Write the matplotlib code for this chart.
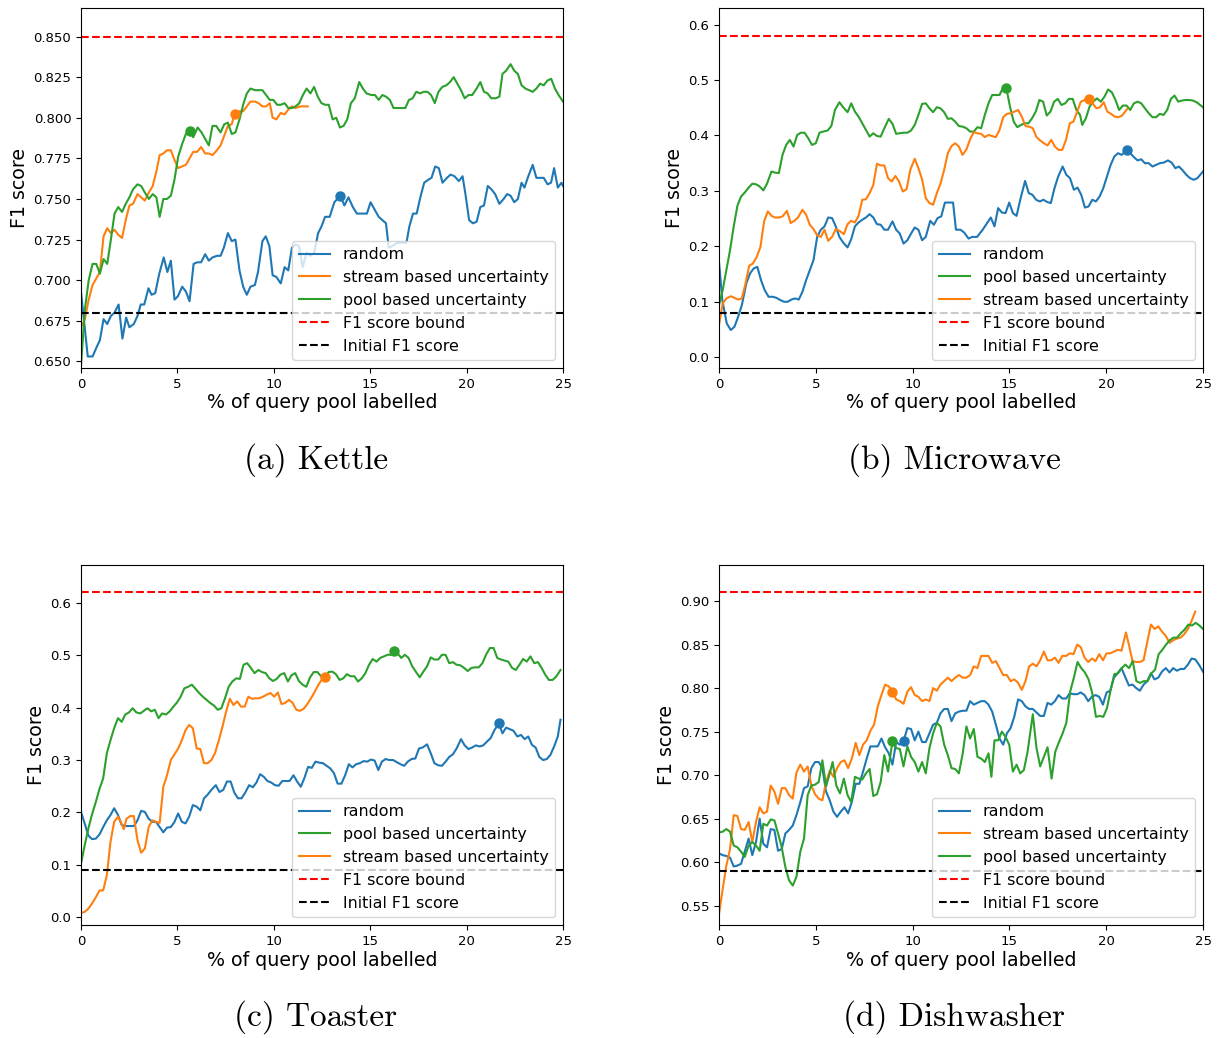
import matplotlib
matplotlib.use("Agg")
import matplotlib.pyplot as plt
import numpy as np

# ---------------- data ----------------
# (a) Kettle
k_random = [(0,0.693),(0.35,0.653),(0.6,0.653),(0.82,0.659),(0.98,0.663),(1.17,0.676),(1.36,0.673),(1.55,0.678),(1.74,0.680),(1.95,0.685),(2.15,0.664),(2.34,0.677),(2.51,0.671),(2.74,0.673),(2.93,0.678),(3.1,0.685),(3.28,0.685),(3.5,0.695),(3.66,0.691),(3.85,0.692),(4.06,0.704),(4.29,0.714),(4.48,0.705),(4.66,0.712),(4.85,0.688),(5.02,0.690),(5.25,0.696),(5.44,0.693),(5.63,0.687),(5.84,0.710),(6.03,0.711),(6.23,0.711),(6.44,0.716),(6.63,0.712),(6.82,0.714),(7.05,0.715),(7.24,0.715),(7.41,0.720),(7.62,0.729),(7.82,0.724),(8.01,0.725),(8.22,0.706),(8.41,0.696),(8.6,0.691),(8.79,0.696),(9.02,0.697),(9.18,0.705),(9.41,0.724),(9.58,0.727),(9.77,0.721),(9.94,0.703),(10.13,0.702),(10.36,0.698),(10.56,0.708),(10.75,0.706),(10.94,0.720),(11.13,0.722),(11.3,0.721),(11.5,0.708),(11.7,0.717),(11.9,0.715),(12.1,0.717),(12.3,0.729),(12.47,0.733),(12.66,0.739),(12.9,0.739),(13.14,0.748),(13.45,0.752),(13.66,0.746),(13.87,0.751),(14.1,0.745),(14.31,0.741),(14.48,0.741),(14.83,0.741),(15.02,0.748),(15.25,0.743),(15.44,0.739),(15.63,0.737),(15.82,0.735),(15.96,0.720),(16.15,0.721),(16.4,0.723),(16.7,0.723),(16.88,0.723),(17.03,0.733),(17.22,0.741),(17.41,0.741),(17.6,0.751),(17.8,0.760),(18.03,0.762),(18.18,0.763),(18.37,0.770),(18.56,0.769),(18.75,0.760),(18.98,0.763),(19.17,0.765),(19.37,0.764),(19.6,0.761),(19.79,0.764),(19.94,0.753),(20.13,0.737),(20.33,0.735),(20.52,0.736),(20.71,0.745),(20.9,0.746),(21.1,0.758),(21.28,0.756),(21.48,0.753),(21.7,0.747),(21.92,0.750),(22.1,0.753),(22.28,0.752),(22.47,0.748),(22.66,0.750),(22.85,0.760),(23.0,0.757),(23.2,0.764),(23.43,0.771),(23.62,0.763),(23.81,0.763),(24.0,0.763),(24.2,0.759),(24.38,0.760),(24.54,0.769),(24.73,0.757),(24.92,0.760),(25,0.758)]
k_stream = [(0,0.671),(0.2,0.676),(0.4,0.688),(0.6,0.697),(0.79,0.701),(0.98,0.705),(1.17,0.727),(1.36,0.732),(1.55,0.729),(1.74,0.731),(1.93,0.728),(2.13,0.726),(2.32,0.737),(2.51,0.746),(2.7,0.747),(2.93,0.753),(3.12,0.751),(3.31,0.749),(3.52,0.754),(3.72,0.758),(3.91,0.767),(4.08,0.777),(4.27,0.778),(4.46,0.780),(4.66,0.780),(4.85,0.774),(5.04,0.769),(5.23,0.770),(5.44,0.771),(5.63,0.775),(5.82,0.779),(6.02,0.779),(6.23,0.782),(6.44,0.778),(6.63,0.778),(6.82,0.777),(7.05,0.780),(7.24,0.783),(7.43,0.789),(7.62,0.795),(7.82,0.796),(7.97,0.803),(8.22,0.804),(8.41,0.804),(8.6,0.807),(8.79,0.810),(9.02,0.810),(9.21,0.809),(9.41,0.807),(9.6,0.807),(9.79,0.809),(9.94,0.800),(10.13,0.799),(10.36,0.803),(10.56,0.802),(10.75,0.805),(10.94,0.807),(11.13,0.806),(11.36,0.807),(11.76,0.807)]
k_pool = [(0,0.647),(0.2,0.682),(0.4,0.700),(0.6,0.710),(0.79,0.710),(0.98,0.704),(1.17,0.713),(1.36,0.710),(1.55,0.725),(1.74,0.741),(1.93,0.745),(2.13,0.742),(2.32,0.747),(2.51,0.751),(2.7,0.756),(2.93,0.759),(3.12,0.758),(3.31,0.754),(3.52,0.750),(3.72,0.753),(3.91,0.751),(4.08,0.739),(4.27,0.750),(4.46,0.750),(4.66,0.752),(4.85,0.762),(5.04,0.776),(5.25,0.784),(5.44,0.790),(5.63,0.792),(5.82,0.788),(6.05,0.794),(6.25,0.791),(6.44,0.787),(6.63,0.783),(6.82,0.795),(7.01,0.795),(7.24,0.791),(7.43,0.796),(7.62,0.797),(7.82,0.790),(8.01,0.791),(8.22,0.799),(8.41,0.808),(8.6,0.815),(8.79,0.818),(9.02,0.817),(9.21,0.817),(9.41,0.817),(9.6,0.814),(9.79,0.811),(9.98,0.811),(10.17,0.808),(10.36,0.808),(10.56,0.809),(10.75,0.806),(10.94,0.806),(11.13,0.807),(11.32,0.809),(11.51,0.814),(11.7,0.818),(11.9,0.815),(12.09,0.819),(12.28,0.813),(12.47,0.809),(12.66,0.808),(12.85,0.808),(13.05,0.799),(13.24,0.800),(13.43,0.794),(13.62,0.795),(13.81,0.799),(14.0,0.809),(14.2,0.812),(14.43,0.822),(14.62,0.818),(14.81,0.815),(15.06,0.814),(15.25,0.814),(15.44,0.811),(15.63,0.814),(15.82,0.813),(16.02,0.811),(16.21,0.806),(16.49,0.806),(16.82,0.806),(17.01,0.811),(17.2,0.812),(17.39,0.816),(17.59,0.815),(17.78,0.816),(17.97,0.816),(18.16,0.814),(18.35,0.809),(18.54,0.816),(18.74,0.819),(18.95,0.820),(19.14,0.822),(19.33,0.825),(19.52,0.821),(19.71,0.817),(19.9,0.812),(20.1,0.814),(20.29,0.814),(20.52,0.818),(20.71,0.822),(20.9,0.816),(21.09,0.815),(21.28,0.812),(21.51,0.812),(21.7,0.813),(21.86,0.827),(22.05,0.829),(22.28,0.833),(22.47,0.829),(22.66,0.827),(22.85,0.820),(23.05,0.818),(23.24,0.817),(23.43,0.816),(23.62,0.818),(23.81,0.821),(24.0,0.820),(24.2,0.823),(24.39,0.824),(24.58,0.818),(24.77,0.814),(25,0.810)]
k_best = {"random": (13.45, 0.752), "stream": (7.97, 0.8025), "pool": (5.63, 0.792)}
k_bound, k_init = 0.85, 0.68
k_yticks = [0.650, 0.675, 0.700, 0.725, 0.750, 0.775, 0.800, 0.825, 0.850]

# (b) Microwave
m_random = [(0,0.172),(0.17,0.103),(0.4,0.061),(0.61,0.049),(0.8,0.055),(0.99,0.073),(1.18,0.094),(1.41,0.133),(1.6,0.151),(1.79,0.160),(1.98,0.163),(2.17,0.139),(2.36,0.121),(2.56,0.109),(2.78,0.109),(2.97,0.107),(3.17,0.103),(3.36,0.100),(3.55,0.100),(3.74,0.104),(3.93,0.106),(4.12,0.104),(4.31,0.118),(4.5,0.139),(4.69,0.157),(4.88,0.175),(5.07,0.217),(5.26,0.230),(5.45,0.236),(5.64,0.252),(5.84,0.251),(6.03,0.236),(6.22,0.217),(6.41,0.207),(6.64,0.198),(6.83,0.213),(7.02,0.236),(7.21,0.243),(7.4,0.248),(7.59,0.252),(7.78,0.258),(7.97,0.252),(8.16,0.240),(8.35,0.239),(8.54,0.230),(8.73,0.230),(8.96,0.245),(9.15,0.230),(9.34,0.223),(9.53,0.205),(9.73,0.211),(9.92,0.223),(10.11,0.234),(10.3,0.230),(10.49,0.211),(10.68,0.217),(10.91,0.246),(11.1,0.239),(11.29,0.251),(11.48,0.254),(11.67,0.279),(11.86,0.279),(12.09,0.279),(12.24,0.230),(12.47,0.230),(12.66,0.225),(12.89,0.214),(13.08,0.217),(13.33,0.217),(13.62,0.230),(13.81,0.240),(14.04,0.252),(14.23,0.236),(14.42,0.269),(14.61,0.261),(14.8,0.260),(14.99,0.279),(15.18,0.260),(15.37,0.255),(15.56,0.284),(15.81,0.318),(16.0,0.296),(16.19,0.293),(16.38,0.284),(16.57,0.281),(16.76,0.284),(16.95,0.280),(17.14,0.278),(17.33,0.305),(17.52,0.326),(17.75,0.344),(17.94,0.329),(18.13,0.323),(18.33,0.302),(18.52,0.306),(18.71,0.293),(18.9,0.270),(19.09,0.272),(19.28,0.284),(19.47,0.281),(19.66,0.290),(19.85,0.305),(20.04,0.326),(20.23,0.347),(20.42,0.362),(20.61,0.368),(20.8,0.365),(21.05,0.374),(21.24,0.368),(21.43,0.361),(21.62,0.355),(21.81,0.357),(22.0,0.350),(22.2,0.350),(22.39,0.344),(22.58,0.347),(22.77,0.350),(22.96,0.351),(23.19,0.355),(23.38,0.351),(23.57,0.341),(23.76,0.344),(23.95,0.337),(24.14,0.329),(24.33,0.323),(24.52,0.320),(24.71,0.323),(25,0.335)]
m_pool = [(0,0.094),(0.19,0.121),(0.38,0.157),(0.57,0.193),(0.76,0.236),(0.95,0.273),(1.14,0.290),(1.33,0.297),(1.53,0.306),(1.72,0.313),(1.91,0.312),(2.1,0.308),(2.29,0.301),(2.48,0.313),(2.71,0.335),(2.9,0.333),(3.09,0.332),(3.28,0.365),(3.47,0.383),(3.66,0.392),(3.85,0.380),(4.04,0.401),(4.23,0.405),(4.42,0.405),(4.61,0.395),(4.8,0.383),(5.0,0.386),(5.19,0.405),(5.38,0.407),(5.61,0.409),(5.8,0.417),(5.99,0.446),(6.22,0.460),(6.41,0.451),(6.64,0.442),(6.83,0.458),(7.02,0.443),(7.21,0.434),(7.4,0.422),(7.59,0.410),(7.78,0.398),(7.97,0.404),(8.16,0.399),(8.35,0.398),(8.54,0.413),(8.77,0.430),(8.96,0.421),(9.15,0.403),(9.34,0.404),(9.53,0.405),(9.73,0.405),(9.92,0.409),(10.11,0.419),(10.3,0.437),(10.49,0.457),(10.68,0.458),(10.87,0.449),(11.06,0.442),(11.25,0.451),(11.44,0.449),(11.63,0.442),(11.82,0.430),(12.01,0.431),(12.2,0.425),(12.39,0.417),(12.58,0.416),(12.78,0.413),(12.97,0.407),(13.16,0.407),(13.35,0.415),(13.54,0.413),(13.73,0.437),(13.92,0.458),(14.11,0.473),(14.3,0.473),(14.49,0.473),(14.68,0.487),(14.84,0.486),(15.03,0.452),(15.22,0.425),(15.41,0.415),(15.6,0.419),(15.79,0.422),(15.98,0.422),(16.17,0.431),(16.36,0.443),(16.55,0.464),(16.74,0.461),(16.93,0.436),(17.12,0.443),(17.31,0.461),(17.5,0.466),(17.69,0.455),(17.88,0.458),(18.07,0.466),(18.27,0.466),(18.46,0.446),(18.65,0.437),(18.76,0.419),(18.95,0.431),(19.14,0.452),(19.33,0.461),(19.52,0.467),(19.72,0.461),(19.91,0.470),(20.1,0.483),(20.29,0.478),(20.48,0.464),(20.67,0.446),(20.86,0.454),(21.05,0.454),(21.24,0.446),(21.43,0.458),(21.62,0.461),(21.81,0.458),(22.0,0.449),(22.2,0.440),(22.39,0.433),(22.58,0.433),(22.77,0.439),(22.96,0.437),(23.15,0.446),(23.34,0.466),(23.53,0.472),(23.72,0.461),(23.91,0.463),(24.1,0.464),(24.29,0.464),(24.48,0.463),(24.67,0.460),(25,0.451)]
m_stream = [(0,0.058),(0.19,0.097),(0.38,0.106),(0.61,0.110),(0.8,0.107),(0.99,0.104),(1.18,0.106),(1.37,0.133),(1.56,0.165),(1.75,0.169),(1.95,0.181),(2.14,0.199),(2.33,0.245),(2.52,0.263),(2.71,0.255),(2.9,0.252),(3.09,0.252),(3.28,0.254),(3.51,0.264),(3.7,0.242),(3.89,0.246),(4.08,0.252),(4.31,0.266),(4.5,0.257),(4.69,0.239),(4.88,0.231),(5.07,0.220),(5.26,0.217),(5.45,0.230),(5.64,0.210),(5.84,0.217),(6.03,0.231),(6.22,0.228),(6.45,0.222),(6.64,0.240),(6.83,0.246),(7.02,0.243),(7.21,0.255),(7.4,0.284),(7.59,0.285),(7.78,0.296),(7.97,0.311),(8.16,0.349),(8.35,0.346),(8.54,0.346),(8.73,0.323),(8.92,0.317),(9.11,0.327),(9.3,0.317),(9.49,0.299),(9.69,0.303),(9.88,0.338),(10.11,0.358),(10.3,0.341),(10.49,0.321),(10.68,0.287),(10.87,0.278),(11.06,0.275),(11.25,0.296),(11.44,0.313),(11.63,0.338),(11.82,0.368),(12.01,0.381),(12.2,0.386),(12.39,0.380),(12.58,0.365),(12.78,0.375),(12.97,0.393),(13.16,0.406),(13.35,0.404),(13.54,0.403),(13.73,0.397),(13.92,0.401),(14.11,0.399),(14.3,0.397),(14.49,0.410),(14.68,0.433),(14.87,0.439),(15.06,0.440),(15.26,0.443),(15.45,0.446),(15.64,0.434),(15.83,0.417),(16.02,0.416),(16.21,0.413),(16.4,0.397),(16.59,0.391),(16.78,0.386),(16.97,0.382),(17.16,0.392),(17.35,0.380),(17.54,0.374),(17.73,0.374),(17.92,0.392),(18.12,0.422),(18.31,0.425),(18.5,0.443),(18.69,0.461),(18.88,0.464),(19.11,0.466),(19.3,0.458),(19.49,0.449),(19.68,0.451),(19.87,0.460),(20.06,0.443),(20.25,0.439),(20.44,0.434),(20.63,0.433),(20.82,0.436),(21.09,0.448)]
m_best = {"random": (21.05, 0.374), "pool": (14.84, 0.486), "stream": (19.11, 0.466)}
m_bound, m_init = 0.58, 0.08
m_yticks = [0.0, 0.1, 0.2, 0.3, 0.4, 0.5, 0.6]

# (c) Toaster
t_random = [(0,0.201),(0.19,0.179),(0.38,0.156),(0.57,0.149),(0.77,0.150),(0.96,0.158),(1.15,0.172),(1.34,0.185),(1.53,0.195),(1.72,0.208),(1.92,0.195),(2.11,0.176),(2.3,0.174),(2.51,0.174),(2.74,0.174),(2.93,0.185),(3.12,0.203),(3.31,0.201),(3.51,0.188),(3.7,0.182),(3.89,0.182),(4.08,0.172),(4.27,0.162),(4.46,0.171),(4.66,0.172),(4.85,0.182),(5.04,0.198),(5.23,0.182),(5.42,0.179),(5.61,0.192),(5.8,0.214),(6.0,0.211),(6.19,0.204),(6.38,0.227),(6.57,0.234),(6.76,0.243),(6.99,0.252),(7.18,0.239),(7.38,0.243),(7.57,0.259),(7.76,0.259),(7.95,0.238),(8.14,0.227),(8.33,0.227),(8.52,0.238),(8.72,0.252),(8.91,0.248),(9.1,0.257),(9.29,0.273),(9.48,0.268),(9.67,0.260),(9.87,0.257),(10.06,0.252),(10.25,0.251),(10.44,0.260),(10.63,0.260),(10.82,0.260),(11.02,0.271),(11.21,0.259),(11.4,0.249),(11.59,0.266),(11.78,0.287),(11.97,0.285),(12.16,0.297),(12.36,0.295),(12.55,0.294),(12.74,0.289),(12.93,0.284),(13.12,0.275),(13.31,0.255),(13.51,0.255),(13.7,0.271),(13.89,0.292),(14.08,0.286),(14.27,0.292),(14.46,0.294),(14.66,0.298),(14.85,0.297),(15.04,0.301),(15.23,0.299),(15.42,0.281),(15.61,0.297),(15.8,0.302),(15.99,0.300),(16.19,0.300),(16.38,0.296),(16.57,0.292),(16.76,0.289),(16.95,0.297),(17.15,0.302),(17.34,0.303),(17.53,0.322),(17.72,0.324),(17.95,0.330),(18.14,0.313),(18.33,0.294),(18.53,0.290),(18.72,0.289),(18.91,0.297),(19.1,0.306),(19.29,0.311),(19.48,0.322),(19.71,0.340),(19.9,0.328),(20.1,0.321),(20.29,0.324),(20.48,0.328),(20.67,0.326),(20.86,0.328),(21.05,0.335),(21.25,0.342),(21.44,0.357),(21.67,0.370),(21.86,0.351),(22.05,0.362),(22.24,0.359),(22.43,0.356),(22.63,0.345),(22.82,0.348),(23.01,0.340),(23.2,0.345),(23.39,0.329),(23.58,0.324),(23.77,0.306),(23.97,0.300),(24.16,0.302),(24.35,0.310),(24.54,0.326),(24.73,0.345),(24.87,0.377)]
t_pool = [(0,0.102),(0.19,0.137),(0.38,0.169),(0.57,0.196),(0.77,0.220),(0.96,0.245),(1.15,0.265),(1.34,0.313),(1.53,0.338),(1.72,0.361),(1.92,0.380),(2.11,0.373),(2.3,0.387),(2.49,0.391),(2.68,0.399),(2.87,0.391),(3.07,0.389),(3.26,0.394),(3.45,0.399),(3.64,0.393),(3.83,0.396),(4.02,0.380),(4.21,0.389),(4.41,0.387),(4.6,0.393),(4.79,0.402),(4.98,0.410),(5.17,0.421),(5.36,0.437),(5.56,0.440),(5.75,0.444),(5.94,0.436),(6.13,0.428),(6.32,0.421),(6.51,0.415),(6.7,0.409),(6.9,0.404),(7.09,0.396),(7.28,0.399),(7.47,0.418),(7.66,0.440),(7.85,0.450),(8.05,0.456),(8.24,0.455),(8.43,0.482),(8.62,0.485),(8.81,0.476),(9.0,0.466),(9.2,0.472),(9.39,0.468),(9.58,0.466),(9.77,0.456),(9.96,0.451),(10.15,0.455),(10.34,0.463),(10.54,0.466),(10.73,0.450),(10.92,0.462),(11.11,0.466),(11.3,0.451),(11.49,0.444),(11.69,0.440),(11.88,0.458),(12.07,0.468),(12.26,0.468),(12.45,0.460),(12.64,0.456),(12.84,0.468),(13.03,0.469),(13.22,0.464),(13.41,0.453),(13.6,0.456),(13.79,0.464),(13.98,0.460),(14.18,0.460),(14.37,0.450),(14.56,0.456),(14.75,0.466),(14.94,0.482),(15.13,0.493),(15.33,0.488),(15.52,0.495),(15.71,0.498),(15.9,0.501),(16.1,0.501),(16.23,0.507),(16.42,0.504),(16.61,0.495),(16.8,0.501),(16.99,0.495),(17.18,0.479),(17.38,0.468),(17.57,0.458),(17.76,0.469),(17.95,0.479),(18.14,0.496),(18.33,0.492),(18.53,0.492),(18.72,0.501),(18.91,0.501),(19.1,0.485),(19.29,0.487),(19.48,0.482),(19.67,0.481),(19.87,0.476),(20.06,0.470),(20.25,0.476),(20.44,0.477),(20.63,0.477),(20.82,0.485),(21.02,0.502),(21.21,0.514),(21.4,0.514),(21.59,0.495),(21.78,0.492),(21.97,0.490),(22.16,0.488),(22.36,0.476),(22.55,0.472),(22.74,0.482),(22.93,0.493),(23.12,0.488),(23.31,0.498),(23.51,0.485),(23.7,0.487),(23.89,0.476),(24.08,0.463),(24.27,0.453),(24.46,0.453),(24.66,0.460),(24.87,0.472)]
t_stream = [(0,0.008),(0.19,0.010),(0.38,0.016),(0.57,0.026),(0.77,0.038),(0.96,0.051),(1.15,0.051),(1.34,0.080),(1.53,0.144),(1.72,0.182),(1.92,0.192),(2.07,0.181),(2.22,0.168),(2.36,0.188),(2.55,0.193),(2.74,0.193),(2.93,0.147),(3.12,0.123),(3.31,0.131),(3.51,0.172),(3.7,0.185),(3.89,0.182),(4.08,0.180),(4.27,0.249),(4.46,0.271),(4.66,0.300),(4.85,0.311),(5.04,0.322),(5.23,0.338),(5.42,0.357),(5.61,0.367),(5.8,0.361),(6.0,0.322),(6.19,0.321),(6.38,0.294),(6.57,0.294),(6.76,0.300),(6.95,0.313),(7.15,0.338),(7.34,0.364),(7.53,0.393),(7.72,0.417),(7.91,0.405),(8.1,0.412),(8.3,0.402),(8.49,0.402),(8.68,0.421),(8.87,0.417),(9.06,0.418),(9.25,0.418),(9.44,0.421),(9.64,0.425),(9.83,0.428),(10.02,0.421),(10.21,0.429),(10.4,0.407),(10.59,0.409),(10.79,0.415),(10.98,0.409),(11.17,0.396),(11.36,0.394),(11.55,0.398),(11.74,0.407),(11.93,0.418),(12.13,0.431),(12.32,0.444),(12.51,0.455),(12.66,0.458)]
t_best = {"random": (21.67, 0.370), "pool": (16.23, 0.508), "stream": (12.66, 0.458)}
t_bound, t_init = 0.62, 0.09
t_yticks = [0.0, 0.1, 0.2, 0.3, 0.4, 0.5, 0.6]

# (d) Dishwasher
d_random = [(0,0.610),(0.19,0.608),(0.38,0.607),(0.57,0.605),(0.76,0.595),(0.95,0.596),(1.14,0.598),(1.33,0.612),(1.53,0.627),(1.72,0.608),(1.91,0.623),(2.1,0.650),(2.29,0.621),(2.48,0.617),(2.67,0.638),(2.86,0.637),(3.05,0.613),(3.24,0.615),(3.43,0.633),(3.62,0.637),(3.81,0.642),(4.0,0.654),(4.2,0.669),(4.39,0.685),(4.58,0.687),(4.77,0.708),(4.96,0.715),(5.15,0.715),(5.34,0.708),(5.53,0.681),(5.72,0.671),(5.91,0.658),(6.1,0.652),(6.29,0.658),(6.48,0.663),(6.67,0.656),(6.86,0.669),(7.06,0.690),(7.25,0.690),(7.44,0.704),(7.63,0.719),(7.82,0.733),(8.01,0.733),(8.2,0.733),(8.39,0.742),(8.58,0.732),(8.77,0.725),(8.96,0.712),(9.15,0.738),(9.34,0.735),(9.53,0.739),(9.73,0.754),(9.92,0.753),(10.11,0.740),(10.3,0.750),(10.49,0.738),(10.68,0.738),(10.87,0.748),(11.06,0.758),(11.25,0.760),(11.44,0.771),(11.63,0.776),(11.82,0.776),(12.01,0.762),(12.2,0.771),(12.39,0.773),(12.59,0.774),(12.78,0.774),(12.97,0.785),(13.16,0.781),(13.35,0.783),(13.54,0.785),(13.73,0.785),(13.92,0.781),(14.11,0.773),(14.3,0.758),(14.49,0.742),(14.68,0.735),(14.87,0.748),(15.06,0.754),(15.25,0.767),(15.45,0.787),(15.64,0.785),(15.83,0.779),(16.02,0.776),(16.21,0.776),(16.4,0.772),(16.59,0.768),(16.78,0.768),(16.97,0.783),(17.16,0.781),(17.35,0.785),(17.54,0.792),(17.73,0.788),(17.93,0.788),(18.12,0.794),(18.31,0.793),(18.5,0.793),(18.69,0.795),(18.88,0.792),(19.07,0.785),(19.26,0.790),(19.45,0.792),(19.64,0.790),(19.83,0.781),(20.02,0.795),(20.21,0.797),(20.4,0.812),(20.59,0.817),(20.79,0.823),(20.98,0.813),(21.17,0.803),(21.36,0.804),(21.55,0.800),(21.74,0.797),(21.93,0.804),(22.12,0.808),(22.31,0.817),(22.5,0.810),(22.69,0.812),(22.88,0.819),(23.08,0.823),(23.27,0.818),(23.46,0.823),(23.65,0.820),(23.84,0.822),(24.03,0.822),(24.22,0.827),(24.41,0.834),(24.6,0.833),(24.79,0.827),(25,0.819)]
d_stream = [(0,0.540),(0.19,0.569),(0.38,0.596),(0.57,0.615),(0.76,0.654),(0.95,0.653),(1.14,0.638),(1.33,0.637),(1.53,0.646),(1.72,0.623),(1.91,0.646),(2.1,0.663),(2.29,0.656),(2.48,0.658),(2.67,0.688),(2.86,0.681),(3.05,0.667),(3.24,0.685),(3.43,0.685),(3.62,0.677),(3.81,0.673),(4.0,0.703),(4.2,0.712),(4.39,0.704),(4.58,0.710),(4.77,0.688),(4.96,0.678),(5.15,0.673),(5.34,0.671),(5.53,0.692),(5.72,0.705),(5.91,0.698),(6.1,0.708),(6.29,0.715),(6.48,0.717),(6.67,0.708),(6.86,0.719),(7.06,0.737),(7.25,0.723),(7.44,0.735),(7.63,0.740),(7.82,0.751),(8.01,0.758),(8.2,0.779),(8.39,0.792),(8.58,0.804),(8.77,0.802),(8.96,0.796),(9.15,0.787),(9.34,0.785),(9.53,0.782),(9.73,0.796),(9.92,0.801),(10.11,0.792),(10.3,0.790),(10.49,0.785),(10.68,0.787),(10.87,0.785),(11.06,0.800),(11.25,0.797),(11.44,0.804),(11.63,0.808),(11.82,0.812),(12.01,0.808),(12.2,0.812),(12.39,0.815),(12.59,0.812),(12.78,0.812),(12.97,0.815),(13.16,0.825),(13.35,0.823),(13.54,0.837),(13.73,0.837),(13.92,0.837),(14.11,0.829),(14.3,0.831),(14.49,0.823),(14.68,0.815),(14.87,0.815),(15.06,0.808),(15.25,0.810),(15.45,0.806),(15.64,0.798),(15.83,0.808),(16.02,0.825),(16.21,0.828),(16.4,0.825),(16.59,0.832),(16.78,0.842),(16.97,0.832),(17.16,0.832),(17.35,0.835),(17.54,0.829),(17.73,0.837),(17.93,0.837),(18.12,0.840),(18.31,0.839),(18.5,0.850),(18.69,0.847),(18.88,0.835),(19.07,0.830),(19.26,0.834),(19.45,0.831),(19.64,0.839),(19.83,0.832),(20.02,0.840),(20.21,0.840),(20.4,0.842),(20.59,0.844),(20.79,0.843),(21.02,0.864),(21.17,0.850),(21.36,0.831),(21.55,0.830),(21.74,0.830),(21.93,0.832),(22.12,0.853),(22.31,0.873),(22.5,0.868),(22.69,0.871),(22.88,0.865),(23.08,0.860),(23.27,0.852),(23.46,0.855),(23.65,0.857),(23.84,0.858),(24.03,0.862),(24.22,0.868),(24.41,0.877),(24.6,0.888)]
d_pool = [(0,0.634),(0.19,0.635),(0.38,0.638),(0.57,0.635),(0.76,0.619),(0.95,0.617),(1.14,0.612),(1.33,0.606),(1.53,0.619),(1.72,0.623),(1.91,0.619),(2.1,0.613),(2.29,0.644),(2.48,0.642),(2.67,0.649),(2.86,0.648),(3.05,0.633),(3.24,0.617),(3.43,0.594),(3.62,0.579),(3.81,0.573),(4.0,0.583),(4.2,0.612),(4.39,0.627),(4.58,0.677),(4.77,0.688),(4.96,0.689),(5.15,0.692),(5.34,0.717),(5.53,0.687),(5.72,0.702),(5.87,0.715),(6.06,0.688),(6.25,0.679),(6.45,0.696),(6.64,0.677),(6.83,0.669),(7.02,0.698),(7.21,0.696),(7.4,0.695),(7.59,0.702),(7.78,0.707),(7.97,0.676),(8.16,0.678),(8.35,0.692),(8.54,0.723),(8.73,0.704),(8.96,0.739),(9.15,0.731),(9.34,0.730),(9.53,0.710),(9.73,0.733),(9.92,0.721),(10.11,0.715),(10.3,0.704),(10.49,0.715),(10.68,0.702),(10.87,0.731),(11.06,0.748),(11.25,0.760),(11.44,0.756),(11.63,0.735),(11.82,0.723),(12.01,0.708),(12.2,0.707),(12.39,0.702),(12.59,0.725),(12.78,0.756),(12.97,0.742),(13.16,0.753),(13.35,0.721),(13.54,0.719),(13.73,0.715),(13.92,0.725),(14.07,0.698),(14.23,0.740),(14.42,0.740),(14.61,0.750),(14.8,0.744),(14.99,0.735),(15.18,0.704),(15.37,0.712),(15.56,0.702),(15.75,0.706),(15.94,0.727),(16.21,0.770),(16.4,0.731),(16.59,0.710),(16.78,0.721),(16.97,0.732),(17.18,0.696),(17.37,0.727),(17.56,0.738),(17.75,0.748),(17.94,0.760),(18.14,0.796),(18.33,0.812),(18.52,0.830),(18.71,0.823),(18.9,0.818),(19.09,0.810),(19.28,0.794),(19.47,0.767),(19.66,0.768),(19.85,0.767),(20.04,0.777),(20.23,0.798),(20.42,0.816),(20.61,0.817),(20.8,0.823),(20.99,0.827),(21.18,0.823),(21.37,0.831),(21.56,0.808),(21.75,0.806),(21.94,0.808),(22.14,0.808),(22.33,0.817),(22.52,0.821),(22.71,0.839),(22.9,0.844),(23.09,0.850),(23.28,0.855),(23.47,0.858),(23.66,0.858),(23.85,0.863),(24.04,0.867),(24.24,0.873),(24.43,0.872),(24.62,0.875),(24.81,0.872),(25,0.868)]
d_best = {"random": (9.53, 0.739), "stream": (8.96, 0.796), "pool": (8.96, 0.739)}
d_bound, d_init = 0.91, 0.59
d_yticks = [0.55, 0.60, 0.65, 0.70, 0.75, 0.80, 0.85, 0.90]

xticks = [0, 5, 10, 15, 20, 25]
labels = {"random": "random", "stream": "stream based uncertainty", "pool": "pool based uncertainty"}
colors = {"random": "#1f77b4", "stream": "#ff7f0e", "pool": "#2ca02c"}
captions = ["(a) Kettle", "(b) Microwave", "(c) Toaster", "(d) Dishwasher"]

panels = [
    dict(series=[("random", k_random), ("stream", k_stream), ("pool", k_pool)], best=k_best,
         bound=k_bound, init=k_init, yticks=k_yticks, ylim=(0.6459, 0.8676), fmt="%.3f"),
    dict(series=[("random", m_random), ("pool", m_pool), ("stream", m_stream)], best=m_best,
         bound=m_bound, init=m_init, yticks=m_yticks, ylim=(-0.0195, 0.630), fmt="%.1f"),
    dict(series=[("random", t_random), ("pool", t_pool), ("stream", t_stream)], best=t_best,
         bound=t_bound, init=t_init, yticks=t_yticks, ylim=(-0.0150, 0.6725), fmt="%.1f"),
    dict(series=[("random", d_random), ("stream", d_stream), ("pool", d_pool)], best=d_best,
         bound=d_bound, init=d_init, yticks=d_yticks, ylim=(0.5277, 0.9415), fmt="%.2f"),
]

# ---------------- figure ----------------
W, H = 1218, 1038
fig = plt.figure(figsize=(W / 100, H / 100), dpi=100)
boxes = [(81, 8, 563, 368), (719, 8, 1203, 368), (81, 565, 563, 925), (719, 565, 1203, 925)]
cap_pos = [(316, 460), (954, 460), (316, 1017), (954, 1017)]

from matplotlib.ticker import FormatStrFormatter

for p, (l, t, r, b), cap, (cx, cy) in zip(panels, boxes, captions, cap_pos):
    ax = fig.add_axes([l / W, 1 - b / H, (r - l) / W, (b - t) / H])
    for key, pts in p["series"]:
        xs = [q[0] for q in pts]
        ys = [q[1] for q in pts]
        ax.plot(xs, ys, color=colors[key], lw=1.5, label=labels[key])
    ax.axhline(p["bound"], color="red", ls="--", lw=1.5, label="F1 score bound")
    ax.axhline(p["init"], color="black", ls="--", lw=1.5, label="Initial F1 score")
    for key, _ in p["series"]:
        bx, by = p["best"][key]
        ax.plot([bx], [by], "o", color=colors[key], ms=6.5)
    ax.set_xlim(0, 25)
    ax.set_ylim(*p["ylim"])
    ax.set_xticks(xticks)
    ax.set_yticks(p["yticks"])
    ax.yaxis.set_major_formatter(FormatStrFormatter(p["fmt"]))
    ax.tick_params(labelsize=9.5)
    ax.set_xlabel("% of query pool labelled", fontsize=13.7, labelpad=2)
    ax.set_ylabel("F1 score", fontsize=13.7, labelpad=3)
    ax.legend(loc="lower right", fontsize=11.4)
    fig.text(cx / W, 1 - cy / H, cap, ha="center", va="center", fontsize=24, family="cmr10")

fig.savefig("out.png", dpi=100)
